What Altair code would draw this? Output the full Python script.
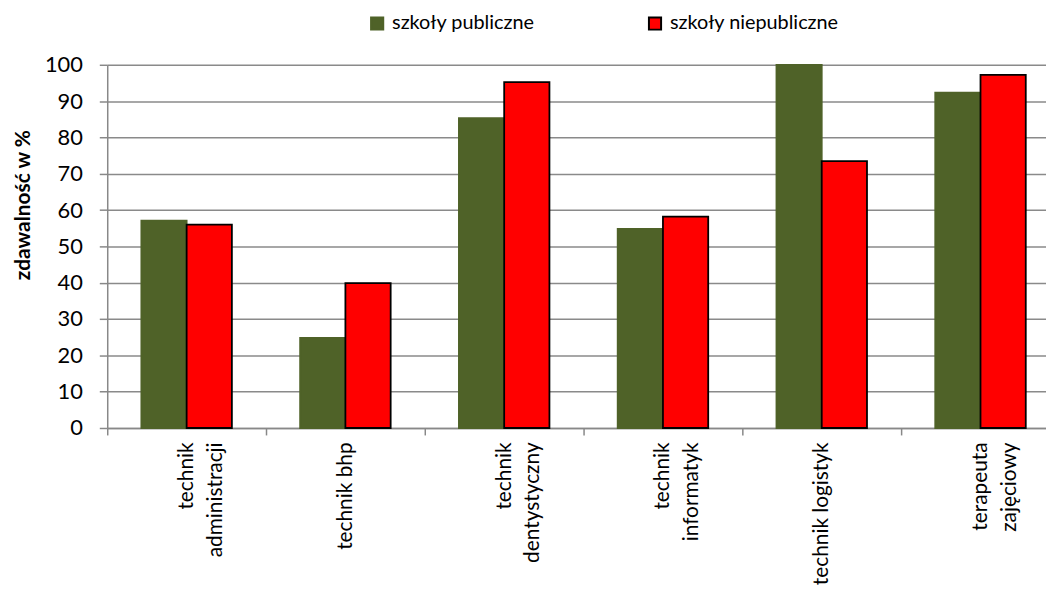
import altair as alt
import pandas as pd

categories = ["technik|administracji", "technik bhp", "technik|dentystyczny",
              "technik|informatyk", "technik logistyk", "terapeuta|zajęciowy"]
series = ["szkoły publiczne", "szkoły niepubliczne"]
publiczne = [57.1, 24.8, 85.3, 54.8, 100.0, 92.3]
niepubliczne = [56.0, 39.9, 95.2, 58.2, 73.5, 97.2]

rows = []
for c, a, b in zip(categories, publiczne, niepubliczne):
    rows.append({"kategoria": c, "seria": series[0], "wartosc": a})
    rows.append({"kategoria": c, "seria": series[1], "wartosc": b})
df = pd.DataFrame(rows)

FONT = "Lato"
green = "#4F6228"
red = "#FF0000"

chart = alt.Chart(df).mark_bar(strokeWidth=1.8).encode(
    x=alt.X("kategoria:N", sort=categories,
            scale=alt.Scale(range=[0, 960], paddingInner=0, paddingOuter=0),
            axis=alt.Axis(title=None, labelAngle=-90, labelAlign="right",
                          labelBaseline="middle", labelExpr="split(datum.label, '|')",
                          labelFontSize=21, labelFont=FONT, labelColor="black",
                          labelLineHeight=29, labelPadding=7,
                          tickBand="extent", tickSize=7, tickColor="#888888",
                          tickWidth=1.5, domainColor="#888888", domainWidth=1.5,
                          grid=False)),
    xOffset=alt.XOffset("seria:N", sort=series,
                        scale=alt.Scale(paddingInner=0, paddingOuter=0.754)),
    y=alt.Y("wartosc:Q",
            scale=alt.Scale(domain=[0, 100], nice=False),
            axis=alt.Axis(title="zdawalność w %", values=list(range(0, 101, 10)),
                          titleFont=FONT, titleFontSize=21, titleFontWeight="bold",
                          titleColor="black", titleAngle=-90, titleX=-84, titleY=141,
                          titleAlign="center", titleBaseline="middle",
                          labelFontSize=22, labelFont=FONT, labelColor="black",
                          labelPadding=17, tickSize=8, tickColor="#888888", tickWidth=1.5,
                          domainColor="#888888", domainWidth=1.5,
                          gridColor="#8a8a8a", gridWidth=1.5)),
    color=alt.Color("seria:N", sort=series,
                    scale=alt.Scale(domain=series, range=[green, red]),
                    legend=alt.Legend(title=None, orient="none", direction="horizontal",
                                      legendX=262, legendY=-52,
                                      symbolType="square", symbolSize=150,
                                      symbolStrokeWidth=2,
                                      labelFont=FONT, labelFontSize=20, labelColor="black",
                                      labelOffset=5, columnPadding=110, labelLimit=400)),
    stroke=alt.Stroke("seria:N", sort=series,
                      scale=alt.Scale(domain=series, range=[green, "black"])),
).properties(
    width=946, height=366,
    autosize=alt.AutoSizeParams(type="none"),
    padding={"left": 100, "top": 55, "right": 0, "bottom": 157},
).configure_view(stroke=None).configure_legend(symbolOpacity=1)

chart.save("out.html", embed_options={"renderer": "svg", "actions": False})
